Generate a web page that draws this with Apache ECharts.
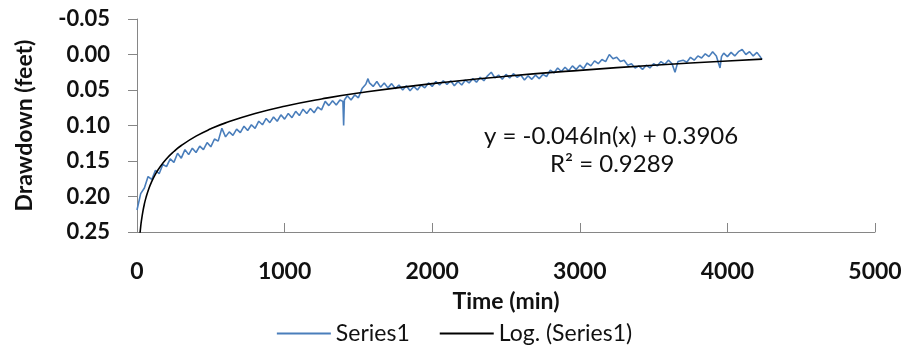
<!DOCTYPE html>
<html>
<head>
<meta charset="utf-8">
<script src="https://cdn.jsdelivr.net/npm/echarts@6/dist/echarts.min.js"></script>
<style>html,body{margin:0;padding:0;background:#fff}#c{width:909px;height:362px}</style>
</head>
<body>
<div id="c"></div>
<script>
const seriesTime = [0,25,50,75,100,125,150,175,200,225,250,275,300,325,350,375,400,425,450,475,500,525,550,575,600,625,650,675,700,725,750,775,800,825,850,875,900,925,950,975,1000,1025,1050,1075,1100,1125,1150,1175,1200,1225,1250,1275,1300,1325,1350,1375,1395,1400,1405,1425,1450,1475,1500,1525,1550,1565,1575,1600,1625,1650,1675,1700,1725,1750,1775,1800,1825,1850,1875,1900,1925,1950,1975,2000,2025,2050,2075,2100,2125,2150,2175,2200,2225,2250,2275,2300,2325,2350,2375,2400,2425,2450,2475,2500,2525,2550,2575,2600,2625,2650,2675,2700,2725,2750,2775,2800,2825,2850,2875,2900,2925,2950,2975,3000,3025,3050,3075,3100,3125,3150,3175,3200,3225,3250,3275,3300,3325,3350,3375,3400,3425,3450,3475,3500,3525,3550,3575,3600,3625,3645,3665,3700,3725,3750,3775,3800,3825,3850,3875,3900,3925,3950,3960,3975,4000,4025,4050,4075,4100,4125,4150,4175,4200,4225,4235];
const seriesDrawdown = [0.219,0.196,0.188,0.172,0.176,0.163,0.168,0.155,0.158,0.147,0.152,0.139,0.146,0.134,0.141,0.132,0.138,0.129,0.134,0.124,0.130,0.119,0.122,0.104,0.116,0.109,0.114,0.105,0.110,0.101,0.107,0.099,0.104,0.094,0.099,0.090,0.096,0.088,0.094,0.085,0.091,0.083,0.089,0.080,0.086,0.077,0.083,0.076,0.082,0.074,0.078,0.066,0.072,0.065,0.071,0.064,0.066,0.100,0.064,0.058,0.064,0.057,0.061,0.048,0.042,0.034,0.040,0.045,0.038,0.046,0.040,0.047,0.041,0.048,0.043,0.050,0.044,0.051,0.045,0.050,0.043,0.047,0.040,0.045,0.038,0.043,0.037,0.042,0.037,0.044,0.038,0.043,0.036,0.040,0.034,0.039,0.032,0.037,0.030,0.025,0.033,0.029,0.035,0.028,0.033,0.027,0.032,0.029,0.036,0.030,0.035,0.029,0.034,0.028,0.031,0.022,0.026,0.019,0.024,0.018,0.023,0.016,0.021,0.015,0.020,0.012,0.016,0.009,0.013,0.007,0.010,0.000,0.006,0.004,0.010,0.008,0.015,0.013,0.019,0.016,0.021,0.015,0.019,0.013,0.016,0.010,0.014,0.008,0.013,0.025,0.010,0.008,0.011,0.004,0.008,0.002,0.005,-0.001,0.003,-0.004,0.002,0.019,0.003,-0.002,0.003,-0.003,0.002,-0.004,-0.007,0.000,-0.004,0.002,-0.003,0.004,0.007];

// Log trendline points (y = -0.046ln(x) + 0.3906), values typed from the label
const trendTime = [20,25,30,40,50,60,80,100,125,150,200,250,300,400,500,600,800,1000,1250,1500,2000,2500,3000,3500,4000,4235];
const trendDrawdown = [0.2528,0.2425,0.2341,0.2209,0.2106,0.2023,0.1890,0.1788,0.1685,0.1601,0.1469,0.1366,0.1282,0.1150,0.1047,0.0963,0.0831,0.0728,0.0626,0.0542,0.0410,0.0307,0.0223,0.0152,0.0091,0.0065];

const legendNames = ['Series1', 'Log. (Series1)'];
const equationLines = ['y = -0.046ln(x) + 0.3906', 'R\u00B2 = 0.9289'];
const xTitle = 'Time (min)';
const yTitle = 'Drawdown (feet)';

const FONT = 'Lato, "Open Sans", sans-serif';
const chart = echarts.init(document.getElementById('c'), null, {renderer: 'canvas'});
chart.setOption({
  animation: false,
  backgroundColor: '#ffffff',
  grid: {left: 137, right: 34, top: 19, bottom: 130, containLabel: false},
  legend: {
    data: [
      {name: legendNames[0], icon: 'rect', itemStyle: {color: '#4a7ebb'}},
      {name: legendNames[1], icon: 'rect', itemStyle: {color: '#000000'}}
    ],
    bottom: 12,
    left: 'center',
    itemWidth: 54,
    itemHeight: 2,
    itemGap: 30,
    textStyle: {fontFamily: FONT, fontSize: 23, color: '#111'}
  },
  xAxis: {
    type: 'value', min: 0, max: 5000, interval: 1000,
    name: xTitle, nameLocation: 'middle', nameGap: 58,
    nameTextStyle: {fontFamily: FONT, fontSize: 23, fontWeight: 'bold', color: '#111'},
    axisLine: {show: true, onZero: false, lineStyle: {color: '#868686', width: 1}},
    axisTick: {show: true, inside: true, length: 9, lineStyle: {color: '#868686'}},
    axisLabel: {
      margin: 28, fontFamily: FONT, fontSize: 23, fontWeight: 'bold', color: '#111',
      formatter: function (v) { return String(Math.round(v)); }
    },
    splitLine: {show: false}
  },
  yAxis: {
    type: 'value', min: -0.05, max: 0.25, interval: 0.05, inverse: true,
    name: yTitle, nameLocation: 'middle', nameGap: 101, nameRotate: 90,
    nameTextStyle: {fontFamily: FONT, fontSize: 23, fontWeight: 'bold', color: '#111'},
    axisLine: {show: true, onZero: false, lineStyle: {color: '#868686', width: 1}},
    axisTick: {show: true, inside: false, length: 9, lineStyle: {color: '#868686'}},
    axisLabel: {
      margin: 27, fontFamily: FONT, fontSize: 22, fontWeight: 'bold', color: '#111',
      formatter: function (v) { return (Math.abs(v) < 1e-9 ? 0 : v).toFixed(2); }
    },
    splitLine: {show: false}
  },
  series: [
    {
      name: legendNames[0], type: 'line', symbol: 'none', showSymbol: false,
      lineStyle: {color: '#4a7ebb', width: 1.6}, itemStyle: {color: '#4a7ebb'},
      data: seriesTime.map((t, i) => [t, seriesDrawdown[i]]), z: 2
    },
    {
      name: legendNames[1], type: 'line', symbol: 'none', showSymbol: false, smooth: true,
      lineStyle: {color: '#000000', width: 1.6}, itemStyle: {color: '#000000'},
      data: trendTime.map((t, i) => [t, trendDrawdown[i]]), z: 3
    }
  ],
  graphic: [
    {type: 'text', left: 484, top: 124, style: {text: equationLines[0], font: '24px ' + FONT, fill: '#111'}},
    {type: 'text', left: 550, top: 152, style: {text: equationLines[1], font: '24px ' + FONT, fill: '#111'}}
  ]
});
</script>
</body>
</html>
